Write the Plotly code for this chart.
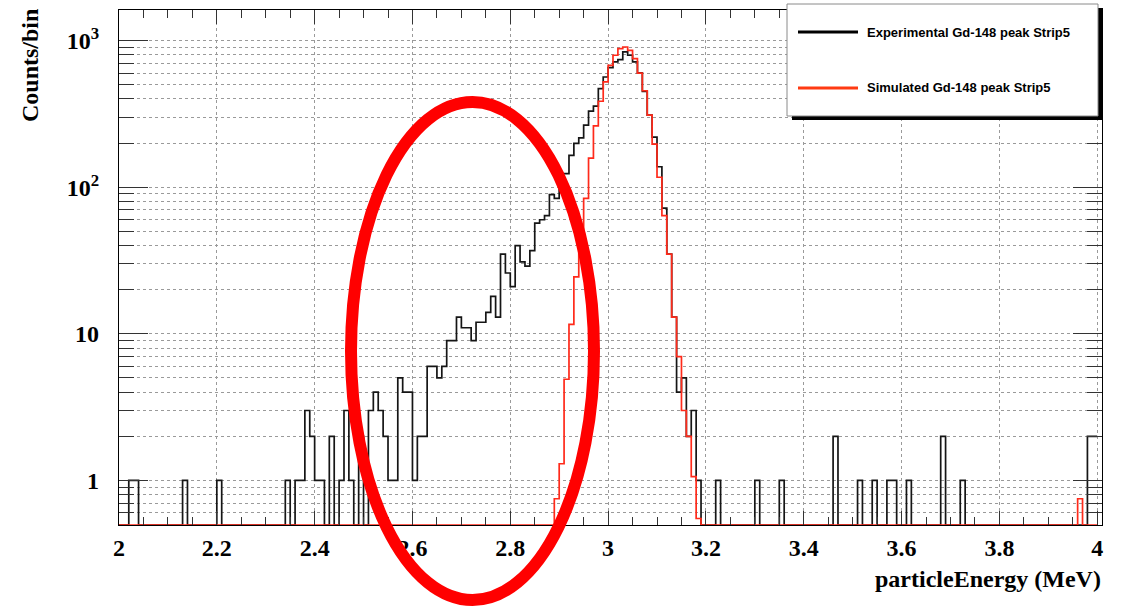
import numpy as np
import plotly.graph_objects as go

# ---------------- data ----------------
E_MIN, E_MAX, N_BINS = 2.0, 4.0, 200

exp_counts = [
    0, 0, 1, 1, 0, 0, 0, 0, 0, 0, 0, 0, 0, 1, 0, 0, 0, 0, 0, 0,
    1, 0, 0, 0, 0, 0, 0, 0, 0, 0, 0, 0, 0, 0, 1, 0, 1, 1, 3, 2,
    1, 1, 0, 2, 0, 1, 3, 1, 0, 2, 0, 3, 4, 3, 2, 1, 1, 5, 4, 4,
    1, 2, 2, 6, 6, 5, 6, 9, 9, 13, 11, 11, 9, 12, 12, 14, 18, 13, 35, 26,
    21, 40, 31, 29, 37, 57, 60, 64, 89, 84, 124, 124, 165, 199, 217, 265, 331, 357, 471, 565,
    655, 716, 742, 837, 795, 716, 602, 451, 310, 220, 138, 72, 35, 13, 4, 5, 2, 3, 1, 0,
    0, 0, 1, 0, 0, 0, 0, 0, 0, 0, 1, 0, 0, 0, 0, 1, 0, 0, 0, 0,
    0, 0, 0, 0, 0, 0, 2, 0, 0, 0, 0, 1, 0, 0, 1, 0, 0, 1, 1, 0,
    0, 1, 0, 0, 0, 0, 0, 0, 2, 0, 0, 0, 1, 0, 0, 0, 0, 0, 0, 0,
    0, 0, 0, 0, 0, 0, 0, 0, 0, 0, 0, 0, 0, 0, 0, 0, 0, 0, 2, 2,
]

sim_counts = [
    0, 0, 0, 0, 0, 0, 0, 0, 0, 0, 0, 0, 0, 0, 0, 0, 0, 0, 0, 0,
    0, 0, 0, 0, 0, 0, 0, 0, 0, 0, 0, 0, 0, 0, 0, 0, 0, 0, 0, 0,
    0, 0, 0, 0, 0, 0, 0, 0, 0, 0, 0, 0, 0, 0, 0, 0, 0, 0, 0, 0,
    0, 0, 0, 0, 0, 0, 0, 0, 0, 0, 0, 0, 0, 0, 0, 0, 0, 0, 0, 0,
    0, 0, 0, 0, 0, 0, 0, 0, 0, 0.75, 1.3, 4.9, 11.6, 24.5, 45, 84, 158, 262, 386, 523,
    679, 795, 881, 905, 859, 754, 600, 455, 310, 197, 117, 64, 35, 13, 7, 3, 2, 1.06, 0.55, 0,
    0, 0, 0, 0, 0, 0, 0, 0, 0, 0, 0, 0, 0, 0, 0, 0, 0, 0, 0, 0,
    0, 0, 0, 0, 0, 0, 0, 0, 0, 0, 0, 0, 0, 0, 0, 0, 0, 0, 0, 0,
    0, 0, 0, 0, 0, 0, 0, 0, 0, 0, 0, 0, 0, 0, 0, 0, 0, 0, 0, 0,
    0, 0, 0, 0, 0, 0, 0, 0, 0, 0, 0, 0, 0, 0, 0, 0, 0.75, 0, 0, 0,
]

x_tickvals = [2.0, 2.2, 2.4, 2.6, 2.8, 3.0, 3.2, 3.4, 3.6, 3.8, 4.0]
x_ticktext = ["2", "2.2", "2.4", "2.6", "2.8", "3", "3.2", "3.4", "3.6", "3.8", "4"]
y_tickvals = [1, 10, 100, 1000]
y_ticktext = ["1", "10", "10<sup>2</sup>", "10<sup>3</sup>"]

series_names = ["Experimental Gd-148 peak Strip5", "Simulated Gd-148 peak Strip5"]

# ---------------- layout constants ----------------
W, H = 1128, 606
L, R, T, B = 119, 1102, 10, 525          # plot area in pixels
Y_LOG_RANGE = [-0.304, 3.209]
X_RANGE = [2.0, 4.0098]
Y_BOTTOM = 10 ** Y_LOG_RANGE[0]

BLACK = "#151515"
RED = "#ff2a1a"
SERIF = "Liberation Serif"
SANS = "Liberation Sans"


def px_x(p):
    return (p - L) / (R - L)


def px_y(p):
    return (B - p) / (B - T)


edges = np.linspace(E_MIN, E_MAX, N_BINS + 1)


def step_xy(counts):
    c = np.asarray(counts, dtype=float)
    y = np.where(c > 0, c, Y_BOTTOM)
    xs = list(edges)
    ys = list(y) + [y[-1]]
    return xs, ys


fig = go.Figure()
for counts, color, name in [(exp_counts, BLACK, series_names[0]),
                            (sim_counts, RED, series_names[1])]:
    xs, ys = step_xy(counts)
    fig.add_trace(go.Scatter(x=xs, y=ys, mode="lines", line_shape="hv",
                             line=dict(color=color, width=1.7), name=name,
                             showlegend=False, hoverinfo="skip"))

minor_y = [v * 10 ** k for k in range(-1, 4) for v in range(2, 10)
           if 10 ** Y_LOG_RANGE[0] <= v * 10 ** k <= 10 ** Y_LOG_RANGE[1]]

tickfont = dict(family=SERIF, size=24, color="black", weight="bold")

fig.update_layout(
    width=W, height=H,
    margin=dict(l=L, r=W - R, t=T, b=H - B, pad=0),
    paper_bgcolor="white", plot_bgcolor="white",
    showlegend=False,
    xaxis=dict(
        range=X_RANGE, tickmode="array", tickvals=x_tickvals, ticktext=x_ticktext,
        ticks="inside", ticklen=14, tickwidth=1, tickcolor="#333",
        showline=True, linecolor="black", linewidth=1.2, mirror="ticks",
        showgrid=True, gridcolor="#9a9a9a", griddash="dot", gridwidth=1,
        zeroline=False, tickfont=tickfont, ticklabelstandoff=1,
        minor=dict(dtick=0.05, tick0=2.0, ticks="inside", ticklen=8,
                   tickcolor="#333", tickwidth=1, showgrid=False),
    ),
    yaxis=dict(
        type="log", range=Y_LOG_RANGE, tickmode="array", tickvals=y_tickvals,
        ticktext=y_ticktext,
        ticks="inside", ticklen=29, tickwidth=1, tickcolor="#333",
        showline=True, linecolor="black", linewidth=1.2, mirror="ticks",
        showgrid=True, gridcolor="#9a9a9a", griddash="dot", gridwidth=1,
        zeroline=False, tickfont=tickfont, ticklabelstandoff=14,
        minor=dict(tickmode="array", tickvals=minor_y, ticks="inside", ticklen=15,
                   tickcolor="#333", tickwidth=1, showgrid=True,
                   gridcolor="#9a9a9a", griddash="dot", gridwidth=1),
    ),
)

shapes = []
# legend shadow and box
shapes.append(dict(type="rect", xref="paper", yref="paper",
                   x0=px_x(792), x1=px_x(1103), y0=px_y(120), y1=px_y(8),
                   fillcolor="black", line=dict(width=0), layer="above"))
shapes.append(dict(type="rect", xref="paper", yref="paper",
                   x0=px_x(787), x1=px_x(1098), y0=px_y(116), y1=px_y(4),
                   fillcolor="white", line=dict(color="#8a8a8a", width=1), layer="above"))
# legend line samples
for yy, col in [(32, "black"), (88, "#ff3a12")]:
    shapes.append(dict(type="line", xref="paper", yref="paper",
                       x0=px_x(798), x1=px_x(858), y0=px_y(yy), y1=px_y(yy),
                       line=dict(color=col, width=3), layer="above"))
# hand drawn red ellipse
shapes.append(dict(type="circle", xref="paper", yref="paper",
                   x0=px_x(351), x1=px_x(594), y0=px_y(600), y1=px_y(102),
                   line=dict(color="#ff0000", width=12), layer="above"))
fig.update_layout(shapes=shapes)

annotations = []
for yy, txt in [(32, series_names[0]), (88, series_names[1])]:
    annotations.append(dict(xref="paper", yref="paper", x=px_x(865), y=px_y(yy),
                            text=txt, showarrow=False, xanchor="left", yanchor="middle",
                            font=dict(family=SANS, size=13, color="black", weight="bold")))
annotations.append(dict(xref="paper", yref="paper", x=px_x(30), y=px_y(66),
                        text="Counts/bin", showarrow=False, textangle=-90,
                        xanchor="center", yanchor="middle",
                        font=dict(family=SERIF, size=24, color="black", weight="bold")))
annotations.append(dict(xref="paper", yref="paper", x=px_x(1103), y=px_y(579),
                        text="particleEnergy (MeV)", showarrow=False,
                        xanchor="right", yanchor="middle",
                        font=dict(family=SERIF, size=24, color="black", weight="bold")))
fig.update_layout(annotations=annotations)

fig.write_html("out.html")
